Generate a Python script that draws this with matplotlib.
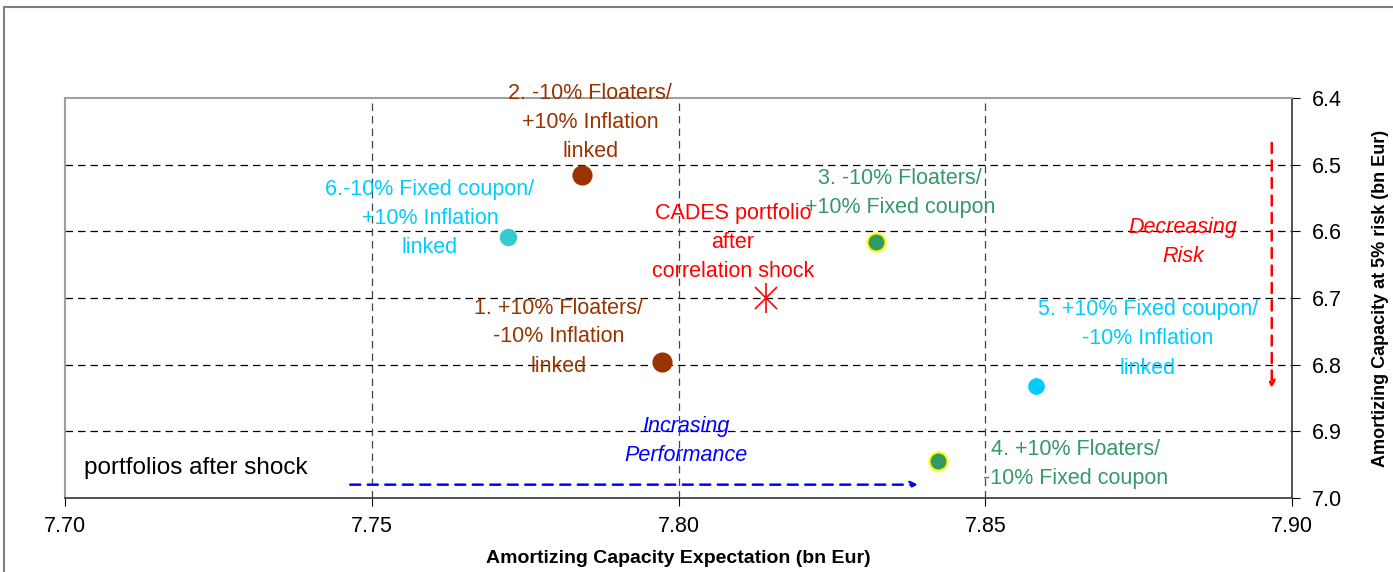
import matplotlib
matplotlib.use('Agg')
import matplotlib.pyplot as plt
from matplotlib.patches import Rectangle

plt.rcParams['font.family'] = ['Liberation Sans', 'DejaVu Sans']

# portfolio points (x = expectation, y = capacity at 5% risk)
names = ['1', '2', '3', '4', '5', '6']
exp_x = [7.7973, 7.7843, 7.8322, 7.8423, 7.8583, 7.7722]
risk_y = [6.796, 6.515, 6.616, 6.945, 6.832, 6.608]
colors = ['#993300', '#993300', '#339966', '#339966', '#00CCFF', '#33CCCC']
edges = ['#993300', '#993300', '#FFFF00', '#FFFF00', '#00CCFF', '#33CCCC']
sizes = [13, 13, 13, 13, 10.5, 11]

cades_x = [7.8143]
cades_y = [6.700]

labels = [
    ('2. -10% Floaters/\n+10% Inflation\nlinked', 7.7856, 6.437, '#993300'),
    ('6.-10% Fixed coupon/\n+10% Inflation\nlinked', 7.7595, 6.581, '#00CCFF'),
    ('CADES portfolio\nafter\ncorrelation shock', 7.8089, 6.6175, '#FF0000'),
    ('3. -10% Floaters/\n+10% Fixed coupon', 7.8361, 6.5425, '#339966'),
    ('1. +10% Floaters/\n-10% Inflation\nlinked', 7.7804, 6.7585, '#993300'),
    ('5. +10% Fixed coupon/\n-10% Inflation\nlinked', 7.8765, 6.7615, '#00CCFF'),
    ('4. +10% Floaters/\n-10% Fixed coupon', 7.8648, 6.949, '#339966'),
]

fig = plt.figure(figsize=(13.93, 5.72), dpi=100)
fig.patches.append(Rectangle((4 / 1393, -0.1), 1.2, 1.1 - 7 / 572, transform=fig.transFigure,
                             fill=False, edgecolor='#808080', linewidth=1.5))
ax = fig.add_axes([65 / 1393, 1 - 498 / 572, 1227 / 1393, 400 / 572])

ax.set_xlim(7.70, 7.90)
ax.set_ylim(7.0, 6.4)
ax.set_xticks([7.70, 7.75, 7.80, 7.85, 7.90])
ax.set_xticklabels(['7.70', '7.75', '7.80', '7.85', '7.90'])
ax.set_yticks([6.4, 6.5, 6.6, 6.7, 6.8, 6.9, 7.0])
ax.set_yticklabels(['6.4', '6.5', '6.6', '6.7', '6.8', '6.9', '7.0'])
ax.yaxis.tick_right()
ax.yaxis.set_label_position('right')
ax.tick_params(axis='both', direction='out', length=6, labelsize=15.5, color='black')
ax.tick_params(axis='x', pad=7)
ax.tick_params(axis='y', pad=8)

for s in ['top', 'left']:
    ax.spines[s].set_color('#A0A0A0')
    ax.spines[s].set_linewidth(1.5)
for s in ['bottom', 'right']:
    ax.spines[s].set_color('#333333')
    ax.spines[s].set_linewidth(1.2)

for yv in [6.5, 6.6, 6.7, 6.8, 6.9]:
    ax.axhline(yv, color='black', linestyle=(0, (6, 4)), linewidth=0.9, zorder=1)
for xv in [7.75, 7.80, 7.85]:
    ax.axvline(xv, color='#444444', linestyle=(0, (6, 4)), linewidth=0.9, zorder=1)

for i in range(len(names)):
    ax.plot(exp_x[i], risk_y[i], 'o', markersize=sizes[i], markerfacecolor=colors[i],
            markeredgecolor=edges[i], markeredgewidth=1.5, zorder=4)

ax.plot(cades_x, cades_y, 'x', color='red', markersize=16, markeredgewidth=1.2, zorder=4)
ax.plot(cades_x, cades_y, '|', color='red', markersize=21, markeredgewidth=1.2, zorder=4)

for txt, tx, ty, c in labels:
    ax.text(tx, ty, txt, color=c, fontsize=15.5, ha='center', va='center',
            linespacing=1.5, zorder=3)

ax.text(7.8822, 6.616, 'Decreasing\nRisk', color='#FF0000', fontsize=15.5, style='italic',
        ha='center', va='center', linespacing=1.5)
ax.text(7.8012, 6.9145, 'Incrasing\nPerformance', color='#0000FF', fontsize=15.5, style='italic',
        ha='center', va='center', linespacing=1.5)
ax.text(7.7031, 6.955, 'portfolios after shock', color='black', fontsize=17.5,
        ha='left', va='center')

ax.annotate('', xy=(7.8390, 6.98), xytext=(7.7465, 6.98),
            arrowprops=dict(arrowstyle='->', color='#0000FF', linestyle=(0, (4, 3)),
                            linewidth=1.8, shrinkA=0, shrinkB=0))
ax.annotate('', xy=(7.8967, 6.835), xytext=(7.8967, 6.4675),
            arrowprops=dict(arrowstyle='->', color='#FF0000', linestyle=(0, (4, 3)),
                            linewidth=1.8, shrinkA=0, shrinkB=0))

ax.set_xlabel('Amortizing Capacity Expectation (bn Eur)', fontsize=14, fontweight='bold',
              labelpad=9)
ax.set_ylabel('Amortizing Capacity at 5% risk (bn Eur)', fontsize=13, fontweight='bold',
              labelpad=22)

fig.savefig('out.png', dpi=100)
